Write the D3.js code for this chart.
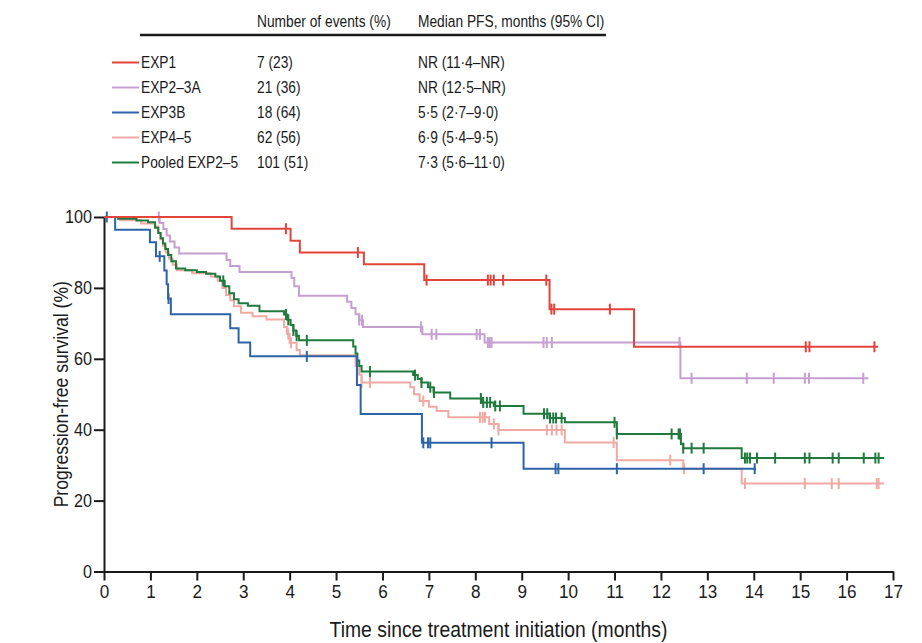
<!DOCTYPE html>
<html>
<head>
<meta charset="utf-8">
<script src="https://cdn.jsdelivr.net/npm/d3@7"></script>
<style>
  html, body { margin: 0; padding: 0; background: #fff; }
  svg text { font-family: "Liberation Sans", Arial, sans-serif; fill: #1a1a1a; }
</style>
</head>
<body>
<script>
// ---- Kaplan–Meier step data (months, % progression-free) ----
const exp1Times = [0, 2.75, 4.02, 4.22, 5.6, 6.9, 9.6, 11.42];
const exp1Surv  = [100, 96.7, 93.3, 90, 86.7, 82.2, 74.0, 63.4];
const exp1End   = 16.68;
const exp1Cens  = [3.92, 5.47, 6.95, 8.27, 8.33, 8.4, 8.6, 9.53, 9.64, 9.7, 10.9, 15.12, 15.2, 16.6];

const exp23aTimes = [0, 1.2, 1.28, 1.35, 1.42, 1.52, 1.62, 2.64, 2.72, 2.92, 4.04, 4.1, 4.2, 5.24, 5.33, 5.42, 5.5, 5.58, 6.86, 8.2, 12.42];
const exp23aSurv  = [100, 98.3, 96.6, 94.8, 93.1, 91.4, 89.7, 87.9, 86.2, 84.5, 82.8, 80.5, 77.8, 76.1, 74.3, 72.6, 70.9, 69.0, 66.9, 64.6, 54.5];
const exp23aEnd   = 16.47;
const exp23aCens  = [1.18, 5.5, 5.56, 6.83, 7.06, 7.16, 8.03, 8.1, 8.27, 8.31, 8.35, 9.47, 9.54, 9.65, 12.4, 12.66, 13.85, 14.43, 15.1, 15.19, 16.36];

const exp3bTimes = [0, 0.24, 0.99, 1.12, 1.3, 1.35, 1.38, 1.44, 2.72, 2.9, 3.15, 5.45, 5.53, 6.85, 9.04];
const exp3bSurv  = [100, 96.4, 92.9, 88.9, 84.9, 81.0, 77.0, 72.6, 68.6, 64.6, 60.7, 52.6, 44.4, 36.3, 29.0];
const exp3bEnd   = 14.05;
const exp3bCens  = [0.06, 1.2, 1.39, 4.37, 6.88, 6.98, 7.03, 8.35, 9.73, 9.79, 11.05, 12.92, 14.02];

const exp45Times = [0, 0.35, 0.8, 1.1, 1.17, 1.22, 1.27, 1.33, 1.4, 1.48, 1.57, 1.9, 2.3, 2.45, 2.55, 2.63, 2.72, 2.8, 2.95, 3.2, 3.5, 3.88, 3.94, 4.0, 4.15, 4.22, 5.42, 5.5, 5.55, 6.6, 6.68, 6.8, 7.0, 7.17, 7.42, 8.3, 8.5, 9.93, 11.05, 12.48, 13.74];
const exp45Surv  = [100, 99.1, 98.2, 97.3, 95.5, 93.7, 91.9, 90.0, 88.3, 86.5, 85.0, 84.1, 83.2, 82.0, 80.0, 78.0, 76.5, 74.8, 73.0, 72.0, 71.1, 69.0, 67.0, 64.5, 62.5, 61.0, 58.0, 55.5, 53.3, 52.0, 50.0, 48.1, 46.5, 45.3, 43.5, 41.6, 39.9, 36.4, 31.4, 29.0, 24.8];
const exp45End   = 16.81;
const exp45Cens  = [3.97, 4.03, 5.55, 5.73, 6.88, 8.1, 8.16, 8.21, 8.4, 8.5, 9.54, 9.65, 9.75, 9.86, 10.98, 12.2, 12.5, 13.81, 15.1, 15.68, 15.83, 16.65, 16.69];

const pooledTimes = [0, 0.3, 0.7, 0.95, 1.1, 1.17, 1.22, 1.27, 1.32, 1.38, 1.45, 1.55, 1.75, 2.0, 2.2, 2.4, 2.5, 2.6, 2.7, 2.8, 2.9, 3.1, 3.35, 3.88, 3.95, 4.02, 4.08, 4.14, 4.2, 5.37, 5.42, 5.46, 5.5, 5.55, 6.66, 6.76, 6.84, 6.98, 7.1, 7.46, 8.15, 8.4, 9.04, 9.6, 9.93, 11.05, 12.43, 12.48, 13.74];
const pooledSurv  = [100, 99.5, 99, 98.5, 97, 95.5, 94, 92.5, 91, 89.3, 87.5, 85.5, 85, 84.5, 84, 83.2, 82, 80.5, 78.5, 76.8, 75.7, 75, 73.4, 72.5, 71, 69.5, 68, 66.5, 65.2, 63.5, 61.5, 59.5, 58, 56.4, 55.4, 54.3, 53.3, 52, 50.5, 48.8, 47.7, 46.7, 44.5, 43.3, 42.1, 38.8, 36.0, 34.8, 32.0];
const pooledEnd   = 16.81;
const pooledCens  = [2.57, 3.92, 3.97, 4.08, 4.15, 4.37, 5.73, 6.7, 6.84, 7.03, 7.11, 8.12, 8.17, 8.25, 8.32, 8.43, 8.53, 9.48, 9.55, 9.61, 9.68, 9.74, 9.86, 11.0, 11.05, 12.23, 12.38, 12.41, 12.48, 12.66, 12.92, 13.81, 13.86, 13.92, 14.07, 14.46, 15.1, 15.2, 15.7, 15.83, 16.37, 16.62, 16.69];

// ---- legend table ----
const groupNames   = ["EXP1", "EXP2–3A", "EXP3B", "EXP4–5", "Pooled EXP2–5"];
const groupColors  = ["#e2443b", "#c59fd0", "#2d63a8", "#f0aaa3", "#1f7a3d"];
const eventCounts  = ["7 (23)", "21 (36)", "18 (64)", "62 (56)", "101 (51)"];
const medianPFS    = ["NR (11·4–NR)", "NR (12·5–NR)", "5·5 (2·7–9·0)", "6·9 (5·4–9·5)", "7·3 (5·6–11·0)"];
const tableHeaders = ["Number of events (%)", "Median PFS, months (95% CI)"];

// ---- axes ----
const xTicks = d3.range(0, 18);
const yTicks = [0, 20, 40, 60, 80, 100];
const xTitle = "Time since treatment initiation (months)";
const yTitle = "Progression-free survival (%)";

const series = [
  { name: groupNames[3], color: groupColors[3], times: exp45Times,  surv: exp45Surv,  end: exp45End,  cens: exp45Cens },
  { name: groupNames[1], color: groupColors[1], times: exp23aTimes, surv: exp23aSurv, end: exp23aEnd, cens: exp23aCens },
  { name: groupNames[4], color: groupColors[4], times: pooledTimes, surv: pooledSurv, end: pooledEnd, cens: pooledCens },
  { name: groupNames[2], color: groupColors[2], times: exp3bTimes,  surv: exp3bSurv,  end: exp3bEnd,  cens: exp3bCens },
  { name: groupNames[0], color: groupColors[0], times: exp1Times,   surv: exp1Surv,   end: exp1End,   cens: exp1Cens }
];

const W = 922, H = 643;
const svg = d3.select("body").append("svg").attr("width", W).attr("height", H);

const x = d3.scaleLinear().domain([0, 17]).range([104, 893]);
const y = d3.scaleLinear().domain([0, 100]).range([571.5, 217]);

// text drawn in a horizontally condensed face
const SX = 0.8;
function label(parent, px, py, str, size, sx = SX, anchor = "start") {
  return parent.append("text")
    .attr("transform", `translate(${px},${py}) scale(${sx},1)`)
    .attr("font-size", size).attr("text-anchor", anchor).text(str);
}

// ---- table / legend ----
const legend = svg.append("g");
const colEvents = 257, colMedian = 418, colName = 141, fsLegend = 17.2;
label(legend, colEvents, 26.5, tableHeaders[0], fsLegend);
label(legend, colMedian, 26.5, tableHeaders[1], fsLegend);
legend.append("line").attr("x1", 140).attr("x2", 606).attr("y1", 35).attr("y2", 35)
  .attr("stroke", "#1a1a1a").attr("stroke-width", 2.5);

groupNames.forEach((name, i) => {
  const by = 68 + i * 25;
  legend.append("line").attr("x1", 112).attr("x2", 139).attr("y1", by - 5.5).attr("y2", by - 5.5)
    .attr("stroke", groupColors[i]).attr("stroke-width", 2);
  label(legend, colName, by, name, fsLegend);
  label(legend, colEvents, by, eventCounts[i], fsLegend);
  label(legend, colMedian, by, medianPFS[i], fsLegend);
});

// ---- axes ----
const xAxis = svg.append("g").attr("transform", `translate(0,${y(0)})`)
  .call(d3.axisBottom(x).tickValues(xTicks).tickSize(9).tickSizeOuter(0).tickPadding(4));
const yAxis = svg.append("g").attr("transform", `translate(${x(0)},0)`)
  .call(d3.axisLeft(y).tickValues(yTicks).tickSize(10).tickSizeOuter(0).tickPadding(2));

[xAxis, yAxis].forEach(g => {
  g.select(".domain").attr("stroke", "#1a1a1a").attr("stroke-width", 2);
  g.selectAll(".tick line").attr("stroke", "#1a1a1a").attr("stroke-width", 2);
  g.selectAll(".tick text").attr("fill", "#1a1a1a")
    .style("font-family", '"Liberation Sans", Arial, sans-serif');
});
xAxis.selectAll(".tick text").attr("font-size", 19).attr("transform", "scale(0.9,1)");
yAxis.selectAll(".tick text").attr("font-size", 18).attr("x", -12 / 0.9).attr("transform", "scale(0.9,1)");

label(svg, (x(0) + x(17)) / 2, 637, xTitle, 21.5, 0.9, "middle");
svg.append("text")
  .attr("transform", `translate(68,${(y(0) + y(100)) / 2}) rotate(-90) scale(0.9,1)`)
  .attr("text-anchor", "middle").attr("font-size", 19.5).text(yTitle);

// ---- curves ----
const stepLine = d3.line().x(d => x(d[0])).y(d => y(d[1])).curve(d3.curveStepAfter);
const survAt = (s, t) => s.surv[Math.max(0, d3.bisectRight(s.times, t) - 1)];

const curves = svg.append("g");
series.forEach(s => {
  const pts = s.times.map((t, i) => [t, s.surv[i]]);
  pts.push([s.end, s.surv[s.surv.length - 1]]);
  const g = curves.append("g");
  g.append("path").attr("d", stepLine(pts)).attr("fill", "none")
    .attr("stroke", s.color).attr("stroke-width", 2);
  g.selectAll("line.cens").data(s.cens).join("line").attr("class", "cens")
    .attr("x1", t => x(t)).attr("x2", t => x(t))
    .attr("y1", t => y(survAt(s, t)) - 5.5).attr("y2", t => y(survAt(s, t)) + 5.5)
    .attr("stroke", s.color).attr("stroke-width", 2);
});
</script>
</body>
</html>
